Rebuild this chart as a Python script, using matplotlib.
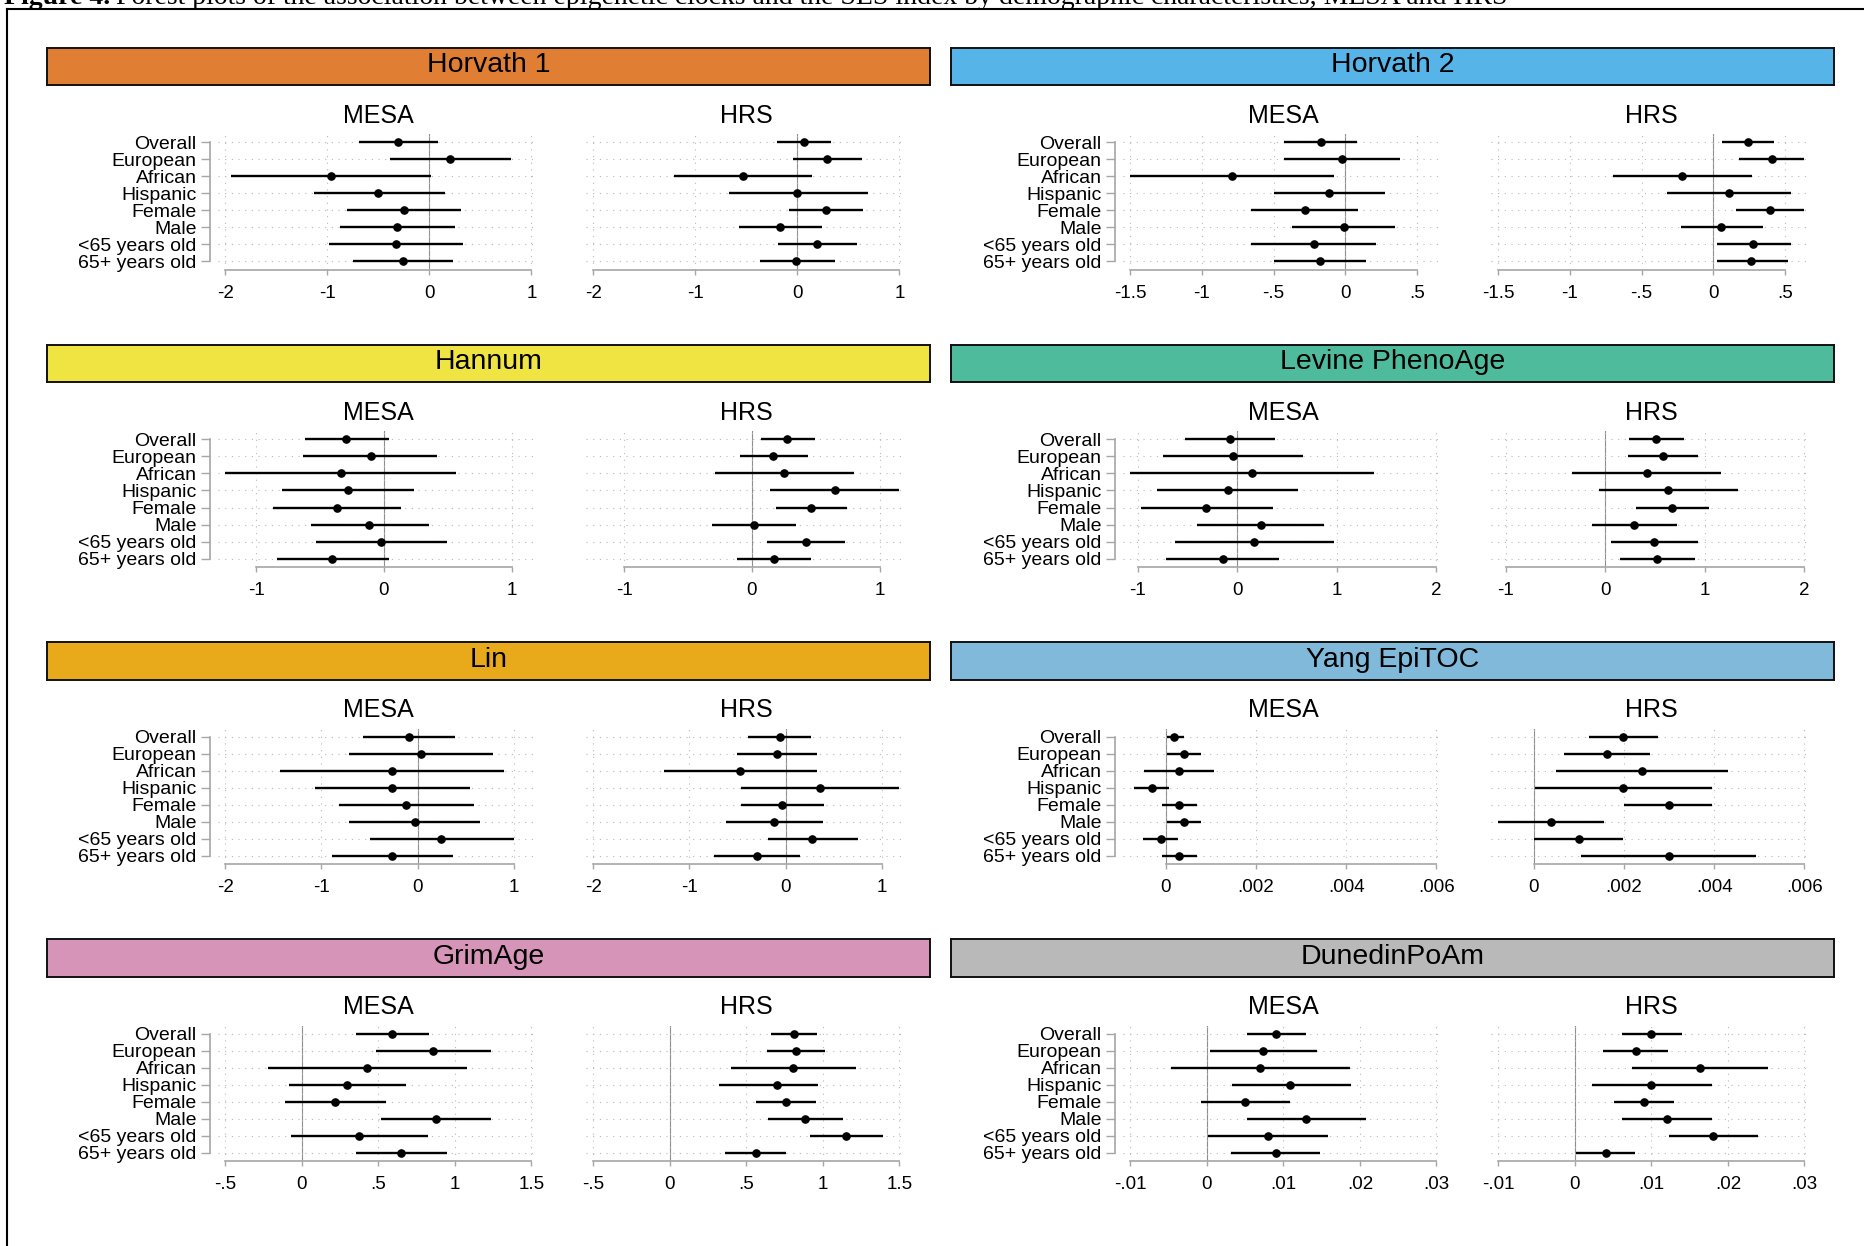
import matplotlib
matplotlib.use("Agg")
import matplotlib.pyplot as plt
from matplotlib.lines import Line2D

W, H = 1864, 1246
DPI = 100

plt.rcParams['font.family'] = ['Liberation Sans', 'DejaVu Sans']

groups = ["Overall", "European", "African", "Hispanic", "Female", "Male",
          "<65 years old", "65+ years old"]

clocks = ["Horvath 1", "Horvath 2", "Hannum", "Levine PhenoAge",
          "Lin", "Yang EpiTOC", "GrimAge", "DunedinPoAm"]
strip_colors = ["#E07F34", "#56B4E8", "#F0E442", "#4DBB9C",
                "#E8A91B", "#80B9DA", "#D594B8", "#B9B9B9"]

# ---------------- Horvath 1
h1_mesa_est = [-0.31, 0.20, -0.965, -0.50, -0.25, -0.32, -0.33, -0.26]
h1_mesa_lo = [-0.69, -0.39, -1.95, -1.13, -0.81, -0.88, -0.98, -0.75]
h1_mesa_hi = [0.08, 0.80, 0.02, 0.15, 0.31, 0.25, 0.33, 0.23]
h1_hrs_est = [0.065, 0.29, -0.53, 0.0, 0.28, -0.17, 0.19, -0.01]
h1_hrs_lo = [-0.20, -0.04, -1.21, -0.67, -0.08, -0.57, -0.19, -0.37]
h1_hrs_hi = [0.33, 0.63, 0.14, 0.69, 0.64, 0.24, 0.58, 0.37]
h1_ticks = [-2, -1, 0, 1]
h1_labels = ["-2", "-1", "0", "1"]

# ---------------- Horvath 2
h2_mesa_est = [-0.171, -0.025, -0.79, -0.113, -0.284, -0.008, -0.221, -0.175]
h2_mesa_lo = [-0.426, -0.426, -1.50, -0.497, -0.66, -0.37, -0.66, -0.497]
h2_mesa_hi = [0.084, 0.38, -0.08, 0.276, 0.092, 0.35, 0.217, 0.146]
h2_hrs_est = [0.242, 0.408, -0.217, 0.108, 0.396, 0.058, 0.279, 0.267]
h2_hrs_lo = [0.063, 0.18, -0.70, -0.32, 0.158, -0.225, 0.025, 0.025]
h2_hrs_hi = [0.425, 0.637, 0.27, 0.546, 0.637, 0.346, 0.542, 0.52]
h2_ticks = [-1.5, -1, -0.5, 0, 0.5]
h2_labels = ["-1.5", "-1", "-.5", "0", ".5"]

# ---------------- Hannum
ha_mesa_est = [-0.296, -0.103, -0.338, -0.282, -0.366, -0.117, -0.019, -0.404]
ha_mesa_lo = [-0.62, -0.63, -1.24, -0.80, -0.87, -0.573, -0.53, -0.836]
ha_mesa_hi = [0.042, 0.42, 0.568, 0.235, 0.136, 0.352, 0.498, 0.038]
ha_hrs_est = [0.277, 0.169, 0.249, 0.648, 0.465, 0.014, 0.423, 0.174]
ha_hrs_lo = [0.075, -0.094, -0.291, 0.141, 0.188, -0.31, 0.122, -0.113]
ha_hrs_hi = [0.493, 0.441, 0.798, 1.155, 0.746, 0.343, 0.732, 0.465]
ha_ticks = [-1, 0, 1]
ha_labels = ["-1", "0", "1"]

# ---------------- Levine PhenoAge
lv_mesa_est = [-0.078, -0.048, 0.144, -0.096, -0.313, 0.234, 0.168, -0.150]
lv_mesa_lo = [-0.53, -0.75, -1.076, -0.806, -0.968, -0.403, -0.631, -0.716]
lv_mesa_hi = [0.373, 0.661, 1.371, 0.607, 0.355, 0.866, 0.968, 0.421]
lv_hrs_est = [0.511, 0.577, 0.415, 0.631, 0.673, 0.289, 0.487, 0.523]
lv_hrs_lo = [0.24, 0.229, -0.337, -0.066, 0.307, -0.138, 0.06, 0.15]
lv_hrs_hi = [0.788, 0.932, 1.16, 1.335, 1.046, 0.716, 0.926, 0.896]
lv_ticks = [-1, 0, 1, 2]
lv_labels = ["-1", "0", "1", "2"]

# ---------------- Lin
ln_mesa_est = [-0.093, 0.037, -0.268, -0.261, -0.124, -0.025, 0.249, -0.261]
ln_mesa_lo = [-0.572, -0.716, -1.43, -1.07, -0.82, -0.71, -0.498, -0.89]
ln_mesa_hi = [0.392, 0.79, 0.896, 0.548, 0.585, 0.653, 1.0, 0.367]
ln_hrs_est = [-0.062, -0.087, -0.474, 0.362, -0.037, -0.119, 0.274, -0.293]
ln_hrs_lo = [-0.387, -0.505, -1.26, -0.462, -0.462, -0.618, -0.187, -0.742]
ln_hrs_hi = [0.268, 0.324, 0.324, 1.185, 0.399, 0.387, 0.749, 0.15]
ln_ticks = [-2, -1, 0, 1]
ln_labels = ["-2", "-1", "0", "1"]

# ---------------- Yang EpiTOC
ya_mesa_est = [0.000185, 0.0004, 0.00029, -0.0003, 0.00029, 0.0004, -0.0001, 0.00029]
ya_mesa_lo = [0.00004, 0.00003, -0.00047, -0.00069, -0.00008, 0.00003, -0.00049, -0.00008]
ya_mesa_hi = [0.0004, 0.00078, 0.00108, 0.00008, 0.00069, 0.00078, 0.00028, 0.00069]
ya_hrs_est = [0.00199, 0.00162, 0.00241, 0.00199, 0.00299, 0.00039, 0.001, 0.00299]
ya_hrs_lo = [0.00122, 0.00068, 0.0005, 0.00004, 0.00201, -0.00078, 0.00001, 0.00104]
ya_hrs_hi = [0.00276, 0.00257, 0.0043, 0.00395, 0.00396, 0.00157, 0.00197, 0.00493]
ya_ticks = [0, 0.002, 0.004, 0.006]
ya_labels = ["0", ".002", ".004", ".006"]

# ---------------- GrimAge
gr_mesa_est = [0.59, 0.855, 0.426, 0.293, 0.215, 0.879, 0.375, 0.648]
gr_mesa_lo = [0.352, 0.484, -0.223, -0.082, -0.113, 0.52, -0.07, 0.355]
gr_mesa_hi = [0.832, 1.234, 1.082, 0.68, 0.551, 1.238, 0.824, 0.949]
gr_hrs_est = [0.813, 0.824, 0.805, 0.699, 0.758, 0.883, 1.152, 0.563]
gr_hrs_lo = [0.664, 0.637, 0.398, 0.32, 0.566, 0.641, 0.914, 0.363]
gr_hrs_hi = [0.961, 1.016, 1.215, 0.969, 0.957, 1.133, 1.395, 0.758]
gr_ticks = [-0.5, 0, 0.5, 1, 1.5]
gr_labels = ["-.5", "0", ".5", "1", "1.5"]

# ---------------- DunedinPoAm
dp_mesa_est = [0.0090, 0.0073, 0.0070, 0.0109, 0.0050, 0.0130, 0.0080, 0.0090]
dp_mesa_lo = [0.0052, 0.0004, -0.0047, 0.0033, -0.0008, 0.0052, 0.0002, 0.0032]
dp_mesa_hi = [0.0129, 0.0144, 0.0187, 0.0188, 0.0109, 0.0208, 0.0158, 0.0148]
dp_hrs_est = [0.0100, 0.0080, 0.0163, 0.0100, 0.0090, 0.0120, 0.0180, 0.0040]
dp_hrs_lo = [0.0061, 0.0037, 0.0075, 0.0022, 0.0051, 0.0061, 0.0123, 0.0002]
dp_hrs_hi = [0.0140, 0.0122, 0.0252, 0.0179, 0.0129, 0.0179, 0.0239, 0.0079]
dp_ticks = [-0.01, 0, 0.01, 0.02, 0.03]
dp_labels = ["-.01", "0", ".01", ".02", ".03"]

panels = [
    ((h1_mesa_est, h1_mesa_lo, h1_mesa_hi), (h1_hrs_est, h1_hrs_lo, h1_hrs_hi), h1_ticks, h1_labels),
    ((h2_mesa_est, h2_mesa_lo, h2_mesa_hi), (h2_hrs_est, h2_hrs_lo, h2_hrs_hi), h2_ticks, h2_labels),
    ((ha_mesa_est, ha_mesa_lo, ha_mesa_hi), (ha_hrs_est, ha_hrs_lo, ha_hrs_hi), ha_ticks, ha_labels),
    ((lv_mesa_est, lv_mesa_lo, lv_mesa_hi), (lv_hrs_est, lv_hrs_lo, lv_hrs_hi), lv_ticks, lv_labels),
    ((ln_mesa_est, ln_mesa_lo, ln_mesa_hi), (ln_hrs_est, ln_hrs_lo, ln_hrs_hi), ln_ticks, ln_labels),
    ((ya_mesa_est, ya_mesa_lo, ya_mesa_hi), (ya_hrs_est, ya_hrs_lo, ya_hrs_hi), ya_ticks, ya_labels),
    ((gr_mesa_est, gr_mesa_lo, gr_mesa_hi), (gr_hrs_est, gr_hrs_lo, gr_hrs_hi), gr_ticks, gr_labels),
    ((dp_mesa_est, dp_mesa_lo, dp_mesa_hi), (dp_hrs_est, dp_hrs_lo, dp_hrs_hi), dp_ticks, dp_labels),
]

AXIS_GRAY = "#A6A6A6"
GRID_GRAY = "#B8B8B8"
PX = 72.0 / DPI  # points per pixel


def rect(x, y, w, h):
    # pixel box (top-left origin) -> figure fraction
    return [x / W, 1 - (y + h) / H, w / W, h / H]


fig = plt.figure(figsize=(W / DPI, H / DPI), dpi=DPI)

# caption (cut off at top of the page crop, as in the source)
cap_y = 1 - 3.5 / H
t1 = fig.text(4 / W, cap_y, "Figure 4.", family="Liberation Serif", fontweight="bold",
              fontsize=20, va="baseline", ha="left")
fig.canvas.draw()
bb = t1.get_window_extent(renderer=fig.canvas.get_renderer())
fig.text((bb.x1 + 6) / W, cap_y,
         "Forest plots of the association between epigenetic clocks and the SES index "
         "by demographic characteristics, MESA and HRS",
         family="Liberation Serif", fontsize=20, va="baseline", ha="left")

# page frame
fig.add_artist(Line2D([7 / W, 1], [1 - 9 / H, 1 - 9 / H], transform=fig.transFigure,
                      color="black", lw=1.5))
fig.add_artist(Line2D([7 / W, 7 / W], [0, 1 - 9 / H], transform=fig.transFigure,
                      color="black", lw=1.5))

D = 306.0   # pixel width of data span
PAD = 7.0   # pixel margin each side
ypos = list(range(len(groups)))

for i, (mesa, hrs, ticks, tlabels) in enumerate(panels):
    r, c = divmod(i, 2)
    dy = r * 297.1

    # coloured header strip
    hx = fig.add_axes(rect(46.8 + c * 904.0, 47.7 + dy, 883.2, 37.6))
    hx.set_facecolor(strip_colors[i])
    hx.set_xticks([])
    hx.set_yticks([])
    for s in hx.spines.values():
        s.set_color("#111111")
        s.set_linewidth(1.4)
    hx.text(0.5, 0.53, clocks[i], ha="center", va="center", fontsize=20.5,
            transform=hx.transAxes)

    all_lo = min(min(mesa[1]), min(hrs[1]), ticks[0])
    all_hi = max(max(mesa[2]), max(hrs[2]), ticks[-1])
    scale = (all_hi - all_lo) / D
    xlim = (all_lo - PAD * scale, all_hi + PAD * scale)

    for j, (name, (est, lo, hi)) in enumerate([("MESA", mesa), ("HRS", hrs)]):
        x0 = 225.4 + c * 905.0 + j * 368.0 - PAD
        ax = fig.add_axes(rect(x0, 134.3 + dy, D + 2 * PAD, 135.2))
        ax.set_xlim(xlim)
        ax.set_ylim(7.47, -0.47)
        ax.patch.set_alpha(0)

        ax.grid(True, linestyle=(0, (1, 5)), color=GRID_GRAY, lw=0.8, zorder=0)
        ax.axvline(0, color="#8E8E8E", lw=0.8, zorder=1.5)

        ax.hlines(ypos, lo, hi, color="black", lw=1.7, zorder=3)
        ax.plot(est, ypos, "o", color="black", ms=5.2, zorder=4)

        ax.set_xticks(ticks)
        ax.set_xticklabels(tlabels)
        ax.set_yticks(ypos)
        ax.spines["top"].set_visible(False)
        ax.spines["right"].set_visible(False)
        ax.spines["bottom"].set_color(AXIS_GRAY)
        ax.spines["bottom"].set_linewidth(1.2)
        ax.spines["bottom"].set_bounds(ticks[0], ticks[-1])
        ax.tick_params(axis="x", direction="out", length=5 * PX, width=1.0,
                       color=AXIS_GRAY, labelsize=13.5, pad=7.5)
        if j == 0:
            ax.set_yticklabels(groups)
            ax.spines["left"].set_color(AXIS_GRAY)
            ax.spines["left"].set_linewidth(1.2)
            ax.spines["left"].set_position(("outward", 8.5 * PX))
            ax.spines["left"].set_bounds(0, 7)
            ax.tick_params(axis="y", direction="out", length=9 * PX, width=1.0,
                           color=AXIS_GRAY, labelsize=14, pad=3)
        else:
            ax.spines["left"].set_visible(False)
            ax.tick_params(axis="y", left=False, labelleft=False)

        fig.text((x0 + (D + 2 * PAD) / 2) / W, 1 - (116 + dy) / H, name,
                 ha="center", va="center", fontsize=18)

fig.savefig("out.png", dpi=DPI)
